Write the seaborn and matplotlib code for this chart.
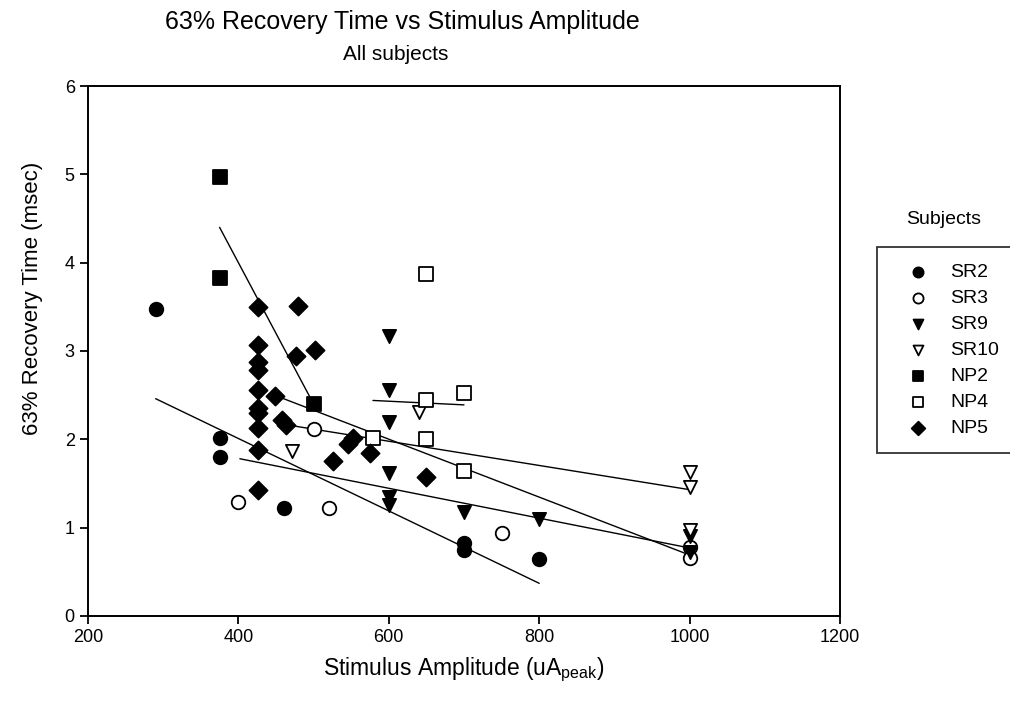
import numpy as np
import pandas as pd
import matplotlib
matplotlib.use("Agg")
from matplotlib import pyplot as plt
import seaborn as sns

# values
subjects = ['SR2', 'SR3', 'SR9', 'SR10', 'NP2', 'NP4', 'NP5']

sr2_x = [290, 375, 375, 460, 700, 700, 800]
sr2_y = [3.47, 2.02, 1.80, 1.22, 0.83, 0.75, 0.65]

sr3_x = [400, 500, 520, 750, 1000, 1000]
sr3_y = [1.29, 2.12, 1.22, 0.94, 0.78, 0.66]

sr9_x = [600, 600, 600, 600, 600, 600, 700, 800, 1000, 1000]
sr9_y = [3.17, 2.56, 2.20, 1.62, 1.35, 1.26, 1.18, 1.10, 0.90, 0.72]

sr10_x = [471, 640, 1000, 1000, 1000]
sr10_y = [1.87, 2.31, 1.63, 1.46, 0.97]

np2_x = [375, 375, 500]
np2_y = [4.97, 3.83, 2.40]

np4_x = [579, 650, 650, 650, 700, 700]
np4_y = [2.01, 3.87, 2.45, 2.00, 2.52, 1.64]

np5_x = [426, 426, 426, 426, 426, 426, 426, 426, 426, 426,
         449, 458, 463, 476, 479, 502, 526, 546, 553, 575, 650]
np5_y = [3.50, 3.07, 2.88, 2.79, 2.56, 2.36, 2.30, 2.13, 1.88, 1.43,
         2.49, 2.22, 2.16, 2.94, 3.51, 3.01, 1.75, 1.95, 2.01, 1.84, 1.57]

# regression lines as drawn in the reference (start/end)
fit_name = ['SR2', 'SR3', 'SR9', 'SR10', 'NP2', 'NP4']
fit_x0 = [290, 402, 451, 460, 375, 579]
fit_x1 = [800, 1000, 1000, 1000, 500, 700]
fit_y0 = [2.46, 1.78, 2.49, 2.17, 4.40, 2.44]
fit_y1 = [0.37, 0.77, 0.69, 1.43, 2.40, 2.39]

xs = [sr2_x, sr3_x, sr9_x, sr10_x, np2_x, np4_x, np5_x]
ys = [sr2_y, sr3_y, sr9_y, sr10_y, np2_y, np4_y, np5_y]
df = pd.concat([pd.DataFrame({'subject': s, 'amp': x, 'time': y})
                for s, x, y in zip(subjects, xs, ys)], ignore_index=True)

fits = pd.DataFrame({'subject': fit_name * 2,
                     'amp': fit_x0 + fit_x1,
                     'time': fit_y0 + fit_y1})

markers = {'SR2': 'o', 'SR3': 'o', 'SR9': 'v', 'SR10': 'v',
           'NP2': 's', 'NP4': 's', 'NP5': 'D'}
filled = {'SR2': True, 'SR3': False, 'SR9': True, 'SR10': False,
          'NP2': True, 'NP4': False, 'NP5': True}
sizes = {'o': 95, 'v': 90, 's': 90, 'D': 85}

sns.set_style('ticks')
plt.rcParams['font.family'] = ['Liberation Sans', 'DejaVu Sans']
plt.rcParams['mathtext.fontset'] = 'custom'
plt.rcParams['mathtext.rm'] = 'Liberation Sans'
plt.rcParams['text.color'] = 'black'
plt.rcParams['axes.labelcolor'] = 'black'

fig = plt.figure(figsize=(10.1, 7.09), dpi=100)
ax = fig.add_axes([0.0871, 0.1312, 0.7446, 0.7475])

sns.lineplot(data=fits, x='amp', y='time', units='subject', estimator=None,
             color='black', lw=1.0, ax=ax, legend=False)

for s in subjects:
    sub = df[df.subject == s]
    m = markers[s]
    sns.scatterplot(x=sub.amp, y=sub.time, marker=m, s=sizes[m],
                    color='black' if filled[s] else 'white',
                    edgecolor='black', linewidth=1.3, label=s, ax=ax,
                    zorder=3)

ax.set_xlim(200, 1200)
ax.set_ylim(0, 6)
ax.set_xticks(np.arange(200, 1201, 200))
ax.set_yticks(np.arange(0, 7, 1))
for sp in ax.spines.values():
    sp.set_linewidth(1.4)
    sp.set_color('black')
ax.tick_params(direction='out', length=6, width=1.3, labelsize=13,
               colors='black')
ax.set_xlabel('Stimulus Amplitude (uA$_{\\mathrm{peak}}$)', fontsize=16.5,
              labelpad=7)
ax.set_ylabel('63% Recovery Time (msec)', fontsize=16)
ax.yaxis.set_label_coords(-0.06, 0.6)

fig.text(402 / 1010, 1 - 22 / 709, '63% Recovery Time vs Stimulus Amplitude',
         ha='center', va='center', fontsize=18)
fig.text(396 / 1010, 1 - 55 / 709, 'All subjects', ha='center', va='center',
         fontsize=15)

fig.text(944 / 1010, 1 - 220 / 709, 'Subjects', ha='center', va='center',
         fontsize=14)
leg = ax.legend(loc='upper left', bbox_to_anchor=(877 / 1010, 1 - 247 / 709),
                bbox_transform=fig.transFigure, frameon=True, fancybox=False,
                edgecolor='black', fontsize=14, borderpad=0.84,
                handlelength=2.55, handletextpad=0.37, labelspacing=0.43,
                markerscale=0.75, borderaxespad=0)
leg.get_frame().set_linewidth(1.3)

fig.savefig('out.png', dpi=100)
